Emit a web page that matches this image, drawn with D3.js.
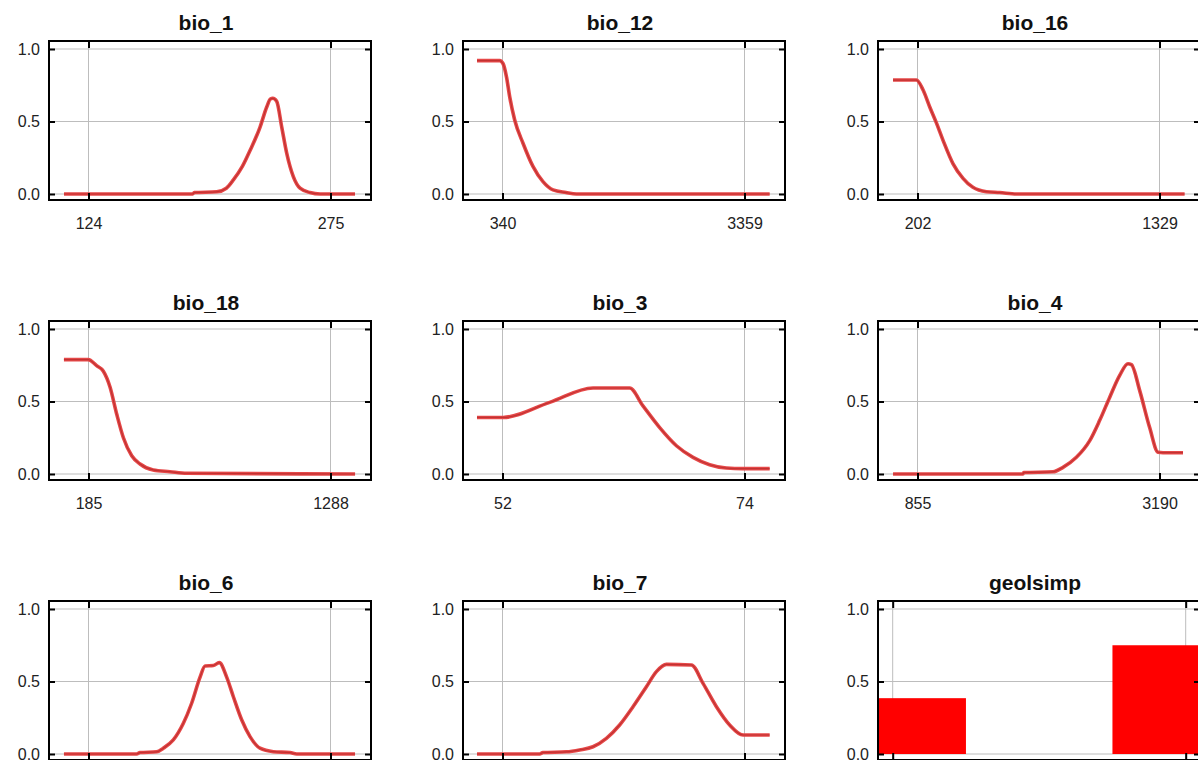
<!DOCTYPE html>
<html>
<head>
<meta charset="utf-8">
<script src="https://cdn.jsdelivr.net/npm/d3@7"></script>
<style>
  body { margin: 0; background: #fff; }
  svg { display: block; }
  text { font-family: "Liberation Sans", Arial, sans-serif; }
</style>
</head>
<body>
<div id="chart"></div>
<script>
// response values
const yTicks = [0, 0.5, 1.0];

const bio_1_ticks = [124, 275];
const bio_1_x = [108.7, 189, 190, 204, 210, 214.4, 220, 224.8, 231.0, 235.2, 237.5, 239, 241.4, 244.6, 247.7, 251.8, 256.0, 262.2, 268.5, 290.3];
const bio_1_y = [0, 0, 0.01, 0.015, 0.04, 0.097, 0.19, 0.30, 0.46, 0.60, 0.655, 0.66, 0.64, 0.46, 0.28, 0.12, 0.04, 0.01, 0, 0];

const bio_12_ticks = [340, 3359];
const bio_12_x = [22, 305, 346, 389, 430, 492, 596, 720, 845, 970, 1132, 1262, 3673];
const bio_12_y = [0.92, 0.92, 0.90, 0.81, 0.67, 0.51, 0.35, 0.19, 0.085, 0.028, 0.01, 0, 0];

const bio_16_ticks = [202, 1329];
const bio_16_x = [88, 197, 228, 259, 290, 321, 367, 414, 460, 523, 585, 663, 1446];
const bio_16_y = [0.786, 0.786, 0.717, 0.60, 0.49, 0.37, 0.21, 0.108, 0.046, 0.016, 0.01, 0, 0];

const bio_18_ticks = [185, 1288];
const bio_18_x = [73, 184, 222, 252, 283, 314, 344, 382, 420, 480, 556, 633, 1400];
const bio_18_y = [0.789, 0.789, 0.747, 0.71, 0.60, 0.41, 0.25, 0.126, 0.069, 0.028, 0.016, 0.005, 0];

const bio_3_ticks = [52, 74];
const bio_3_x = [49.68, 52.05, 56.29, 60.23, 63.56, 64.77, 66.29, 67.81, 69.32, 70.83, 72.35, 73.86, 76.29];
const bio_3_y = [0.39, 0.39, 0.494, 0.593, 0.593, 0.47, 0.32, 0.195, 0.115, 0.064, 0.041, 0.037, 0.037];

const bio_4_ticks = [855, 3190];
const bio_4_x = [619, 1873, 1880, 2162, 2259, 2388, 2517, 2613, 2710, 2806, 2886, 2919, 2999, 3095, 3176, 3224, 3417];
const bio_4_y = [0, 0, 0.01, 0.015, 0.046, 0.115, 0.23, 0.37, 0.53, 0.68, 0.76, 0.754, 0.575, 0.32, 0.15, 0.147, 0.147];

const bio_6_ticks = [-46, 95];
const bio_6_x = [-60.3, -17.9, -16, -6.3, -2.4, 3.4, 9.2, 14.1, 19.0, 21.9, 26.7, 30.2, 34.5, 38.4, 43.3, 48.1, 53.9, 61.7, 71.4, 75.3, 109.3];
const bio_6_y = [0, 0, 0.01, 0.015, 0.04, 0.097, 0.21, 0.35, 0.53, 0.607, 0.61, 0.63, 0.53, 0.395, 0.234, 0.12, 0.04, 0.016, 0.01, 0, 0];

const bio_7_ticks = [190, 340];
const bio_7_x = [174.2, 213.1, 215, 229.6, 237.8, 246.1, 254.4, 262.6, 270.9, 279.2, 285.4, 291.6, 307.1, 314.3, 322.6, 330.8, 339.1, 343.2, 355.6];
const bio_7_y = [0, 0, 0.01, 0.015, 0.028, 0.05, 0.108, 0.2, 0.326, 0.464, 0.568, 0.618, 0.614, 0.487, 0.326, 0.2, 0.131, 0.131, 0.131];

const geolsimp_cats = [1, 2];
const geolsimp_vals = [0.385, 0.75];

const panels = [
    {name: 'bio_1', ticks: bio_1_ticks, x: bio_1_x, y: bio_1_y},
    {name: 'bio_12', ticks: bio_12_ticks, x: bio_12_x, y: bio_12_y},
    {name: 'bio_16', ticks: bio_16_ticks, x: bio_16_x, y: bio_16_y},
    {name: 'bio_18', ticks: bio_18_ticks, x: bio_18_x, y: bio_18_y},
    {name: 'bio_3', ticks: bio_3_ticks, x: bio_3_x, y: bio_3_y},
    {name: 'bio_4', ticks: bio_4_ticks, x: bio_4_x, y: bio_4_y},
    {name: 'bio_6', ticks: bio_6_ticks, x: bio_6_x, y: bio_6_y},
    {name: 'bio_7', ticks: bio_7_ticks, x: bio_7_x, y: bio_7_y},
    {name: 'geolsimp', ticks: geolsimp_cats, cats: geolsimp_cats, vals: geolsimp_vals}
];

function makeGraph() {
    let w = 1198, h = 760;
    let fw = 322, fh = 159;
    let lefts = [49, 463, 878];

    let svg = d3.select('#chart')
        .append('svg')
        .attr('width', w)
        .attr('height', h);

    svg.append('defs').append('clipPath')
        .attr('id', 'frameClip')
        .append('rect')
        .attr('width', fw)
        .attr('height', fh);

    panels.forEach((p, i) => {
        let col = i % 3, row = Math.floor(i / 3);
        let g = svg.append('g')
            .attr('transform', `translate(${lefts[col]}, ${41 + row * 280})`);

        let xScale = d3.scaleLinear()
            .domain(p.ticks)
            .range(p.cats ? [14.7, 307.7] : [39.5, 281.5]);
        let yScale = d3.scaleLinear()
            .domain([0, 1])
            .range([153, 8]);

        // grid
        g.selectAll('.hgrid')
            .data(yTicks)
            .enter()
            .append('line')
            .attr('x1', 0).attr('x2', fw)
            .attr('y1', d => yScale(d)).attr('y2', d => yScale(d))
            .style('stroke', '#bdbdbd');
        g.selectAll('.vgrid')
            .data(p.ticks)
            .enter()
            .append('line')
            .attr('x1', d => xScale(d)).attr('x2', d => xScale(d))
            .attr('y1', 0).attr('y2', fh)
            .style('stroke', '#bdbdbd');

        if (p.cats) {
            g.append('g')
                .attr('clip-path', 'url(#frameClip)')
                .selectAll('rect')
                .data(p.cats.map((c, k) => ({c: c, v: p.vals[k]})))
                .enter()
                .append('rect')
                .attr('x', d => xScale(d.c - 0.25))
                .attr('width', d => xScale(d.c + 0.25) - xScale(d.c - 0.25))
                .attr('y', d => yScale(d.v))
                .attr('height', d => yScale(0) - yScale(d.v))
                .style('fill', '#ff0000');
        } else {
            let pts = p.x.map((v, k) => [v, p.y[k]]);
            let line = d3.line()
                .x(d => xScale(d[0]))
                .y(d => yScale(d[1]))
                .curve(d3.curveMonotoneX);
            g.append('path')
                .attr('d', line(pts))
                .style('fill', 'none')
                .style('stroke', '#e64848')
                .style('stroke-width', 3.6)
                .style('stroke-linejoin', 'round');
            g.append('path')
                .attr('d', line(pts))
                .style('fill', 'none')
                .style('stroke', '#b02a2a')
                .style('stroke-width', 1.2)
                .style('opacity', 0.7);
        }

        // axes, ticks pointing inward
        let yLeft = g.append('g')
            .call(d3.axisLeft(yScale).tickValues(yTicks).tickFormat(d3.format('.1f')).tickSize(-6).tickPadding(9));
        let yRight = g.append('g')
            .attr('transform', `translate(${fw}, 0)`)
            .call(d3.axisRight(yScale).tickValues(yTicks).tickFormat('').tickSize(-6));
        let xBottom = g.append('g')
            .attr('transform', `translate(0, ${fh})`)
            .call(d3.axisBottom(xScale).tickValues(p.ticks).tickFormat(d3.format('d')).tickSize(-7).tickPadding(18));
        let xTop = g.append('g')
            .call(d3.axisTop(xScale).tickValues(p.ticks).tickFormat('').tickSize(-7));

        [yLeft, yRight, xBottom, xTop].forEach(a => {
            a.select('.domain').remove();
            a.selectAll('line').style('stroke', '#000').style('stroke-width', 2);
            a.selectAll('text')
                .style('font-family', '"Liberation Sans", Arial, sans-serif')
                .style('font-size', '16px')
                .style('fill', '#222');
        });

        g.append('rect')
            .attr('width', fw)
            .attr('height', fh)
            .style('fill', 'none')
            .style('stroke', '#000')
            .style('stroke-width', 2);

        g.append('text')
            .attr('x', fw / 2 - 4)
            .attr('y', -11)
            .attr('text-anchor', 'middle')
            .style('font-weight', 'bold')
            .style('font-size', '21px')
            .style('fill', '#111')
            .text(p.name);
    });
}

window.onload = () => {
    makeGraph();
}
</script>
</body>
</html>
